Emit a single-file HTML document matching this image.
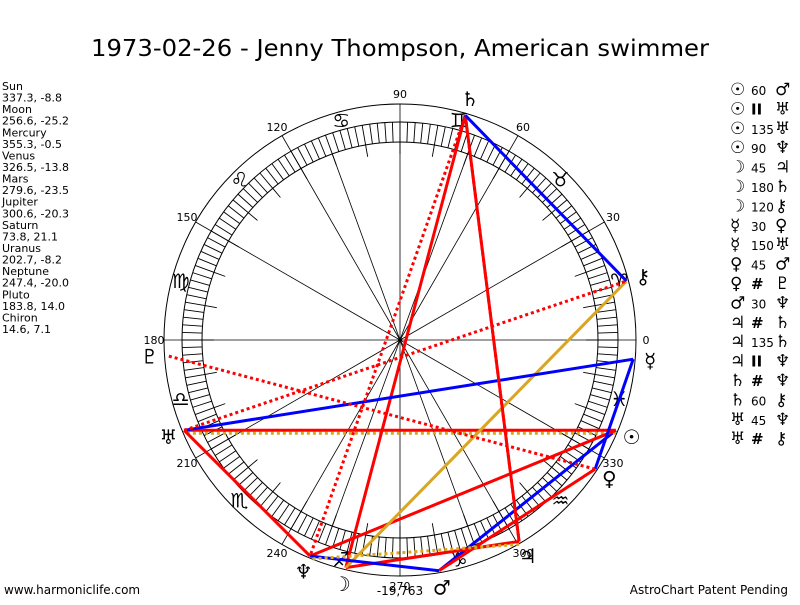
<!DOCTYPE html>
<html><head><meta charset="utf-8"><style>
body{margin:0;background:#fff;}
svg text{font-family:"DejaVu Sans","Liberation Sans",sans-serif;}
</style></head><body>
<svg id="c" width="800" height="600" xmlns="http://www.w3.org/2000/svg">
<text x="400" y="56" text-anchor="middle" font-size="23" textLength="618" lengthAdjust="spacingAndGlyphs">1973-02-26 - Jenny Thompson, American swimmer</text>
<text x="4" y="594" font-size="12">www.harmoniclife.com</text>
<text x="788" y="594" font-size="12" text-anchor="end">AstroChart Patent Pending</text>
<text x="400" y="595" font-size="12" text-anchor="middle">-19,763</text>
<g id="wheel"></g><g id="aspects"></g><g id="glyphs"></g><g id="lists"></g>
</svg>
<script>
const planetNames=["Sun","Moon","Mercury","Venus","Mars","Jupiter","Saturn","Uranus","Neptune","Pluto","Chiron"];
const planetGlyphs=["☉","☽","☿","♀","♂","♃","♄","♅","♆","♇","⚷"];
const longitudes=[337.3,256.6,355.3,326.5,279.6,300.6,73.8,202.7,247.4,183.8,14.6];
const latitudes=[-8.8,-25.2,-0.5,-13.8,-23.5,-20.3,21.1,-8.2,-20.0,14.0,7.1];
const signGlyphs=["♈","♉","♊","♋","♌","♍","♎","♏","♐","♑","♒","♓"];
const aspectA=[0,0,0,0,1,1,1,2,2,3,3,4,5,5,5,6,6,7,7];
const aspectB=[4,7,7,8,5,6,10,3,7,4,9,8,6,6,8,8,10,8,10];
const aspectLabels=["60","II","135","90","45","180","120","30","150","45","#","30","#","135","II","#","60","45","#"];
const aspectKinds=["soft","par","hard","hard","hard","hard","trine","soft","soft","hard","contra","soft","contra","hard","par","contra","soft","hard","contra"];

const NS="http://www.w3.org/2000/svg";
const cx=400,cy=340,R=236,Rb1=218,Rb2=198;
function px(a,r){return cx+r*Math.cos(a*Math.PI/180);}
function py(a,r){return cy-r*Math.sin(a*Math.PI/180);}
function mk(tag,attrs,parent){const e=document.createElementNS(NS,tag);for(const k in attrs)e.setAttribute(k,attrs[k]);parent.appendChild(e);return e;}
const W=document.getElementById('wheel');
let e;
e=mk('circle',{cx:cx,cy:cy,r:R,fill:'none',stroke:'#000','stroke-width':1},W);


e=mk('circle',{cx:cx,cy:cy,r:Rb1,fill:'none',stroke:'#000','stroke-width':1},W);


e=mk('circle',{cx:cx,cy:cy,r:Rb2,fill:'none',stroke:'#000','stroke-width':1},W);


for(let d=0;d<360;d+=2){mk('line',{x1:px(d,Rb2),y1:py(d,Rb2),x2:px(d,Rb1),y2:py(d,Rb1),stroke:'#000','stroke-width':0.9},W);}
for(let d=0;d<360;d+=10){mk('line',{x1:px(d,Rb2),y1:py(d,Rb2),x2:px(d,Rb2-12),y2:py(d,Rb2-12),stroke:'#000','stroke-width':0.9},W);}
for(let d=0;d<360;d+=30){
  mk('line',{x1:cx,y1:cy,x2:px(d,R),y2:py(d,R),stroke:'#000','stroke-width':0.8},W);
  e=mk('text',{x:px(d,R+10),y:py(d,R+10)+4,'font-size':11,'text-anchor':'middle'},W);
  e.textContent=d;
  
  
}
[70,110,250,290].forEach(d=>mk('line',{x1:cx,y1:cy,x2:px(d,Rb2),y2:py(d,Rb2),stroke:'#000','stroke-width':0.8},W));
mk('circle',{cx:cx,cy:cy,r:2,fill:'#000'},W);
for(let i=0;i<12;i++){
  const a=i*30+15;
  e=mk('text',{x:px(a,227),y:py(a,227)+7,'font-size':20,'text-anchor':'middle','font-family':'DejaVu Serif, serif'},W);
  e.textContent=signGlyphs[i];
  
  
}
const A=document.getElementById('aspects');
const styles={hard:{c:'#ff0000',d:'',o:0},soft:{c:'#0000ff',d:'',o:0},trine:{c:'#daa520',d:'',o:0},contra:{c:'#ff0000',d:'3,3',o:0},par:{c:'#daa520',d:'3,3',o:3}};
const RL=234;
for(let i=0;i<aspectA.length;i++){
  const s=styles[aspectKinds[i]];
  const la=longitudes[aspectA[i]],lb=longitudes[aspectB[i]];
  e=mk('line',{x1:px(la,RL),y1:py(la,RL)+s.o,x2:px(lb,RL),y2:py(lb,RL)+s.o,stroke:s.c,'stroke-width':3},A);
  if(s.d)e.setAttribute('stroke-dasharray',s.d);
  
  
}
const G=document.getElementById('glyphs');
for(let i=0;i<planetNames.length;i++){
  const a=longitudes[i];
  e=mk('text',{x:px(a,251),y:py(a,251)+7,'font-size':20,'text-anchor':'middle','font-weight':'bold'},G);
  e.textContent=planetGlyphs[i];
  
  
}
const L=document.getElementById('lists');
for(let i=0;i<planetNames.length;i++){
  e=mk('text',{x:2,y:90+i*23.14,'font-size':11},L);
  e.textContent=planetNames[i];
  
  
  e=mk('text',{x:2,y:90+i*23.14+11.57,'font-size':11},L);
  e.textContent=longitudes[i].toFixed(1)+", "+latitudes[i].toFixed(1);
  
  
}
for(let i=0;i<aspectA.length;i++){
  const y=95+i*19.4;
  const sym=(aspectLabels[i]==='II'||aspectLabels[i]==='#');
  e=mk('text',{x:730,y:y,'font-size':17,'font-weight':'bold'},L);
  e.textContent=planetGlyphs[aspectA[i]];
  
  
  e=mk('text',{x:751,y:y,'font-size':sym?15:12,'font-weight':sym?'bold':'normal'},L);
  e.textContent=aspectLabels[i];
  
  
  e=mk('text',{x:775,y:y,'font-size':17,'font-weight':'bold'},L);
  e.textContent=planetGlyphs[aspectB[i]];
  
  
}
</script>
</body></html>
